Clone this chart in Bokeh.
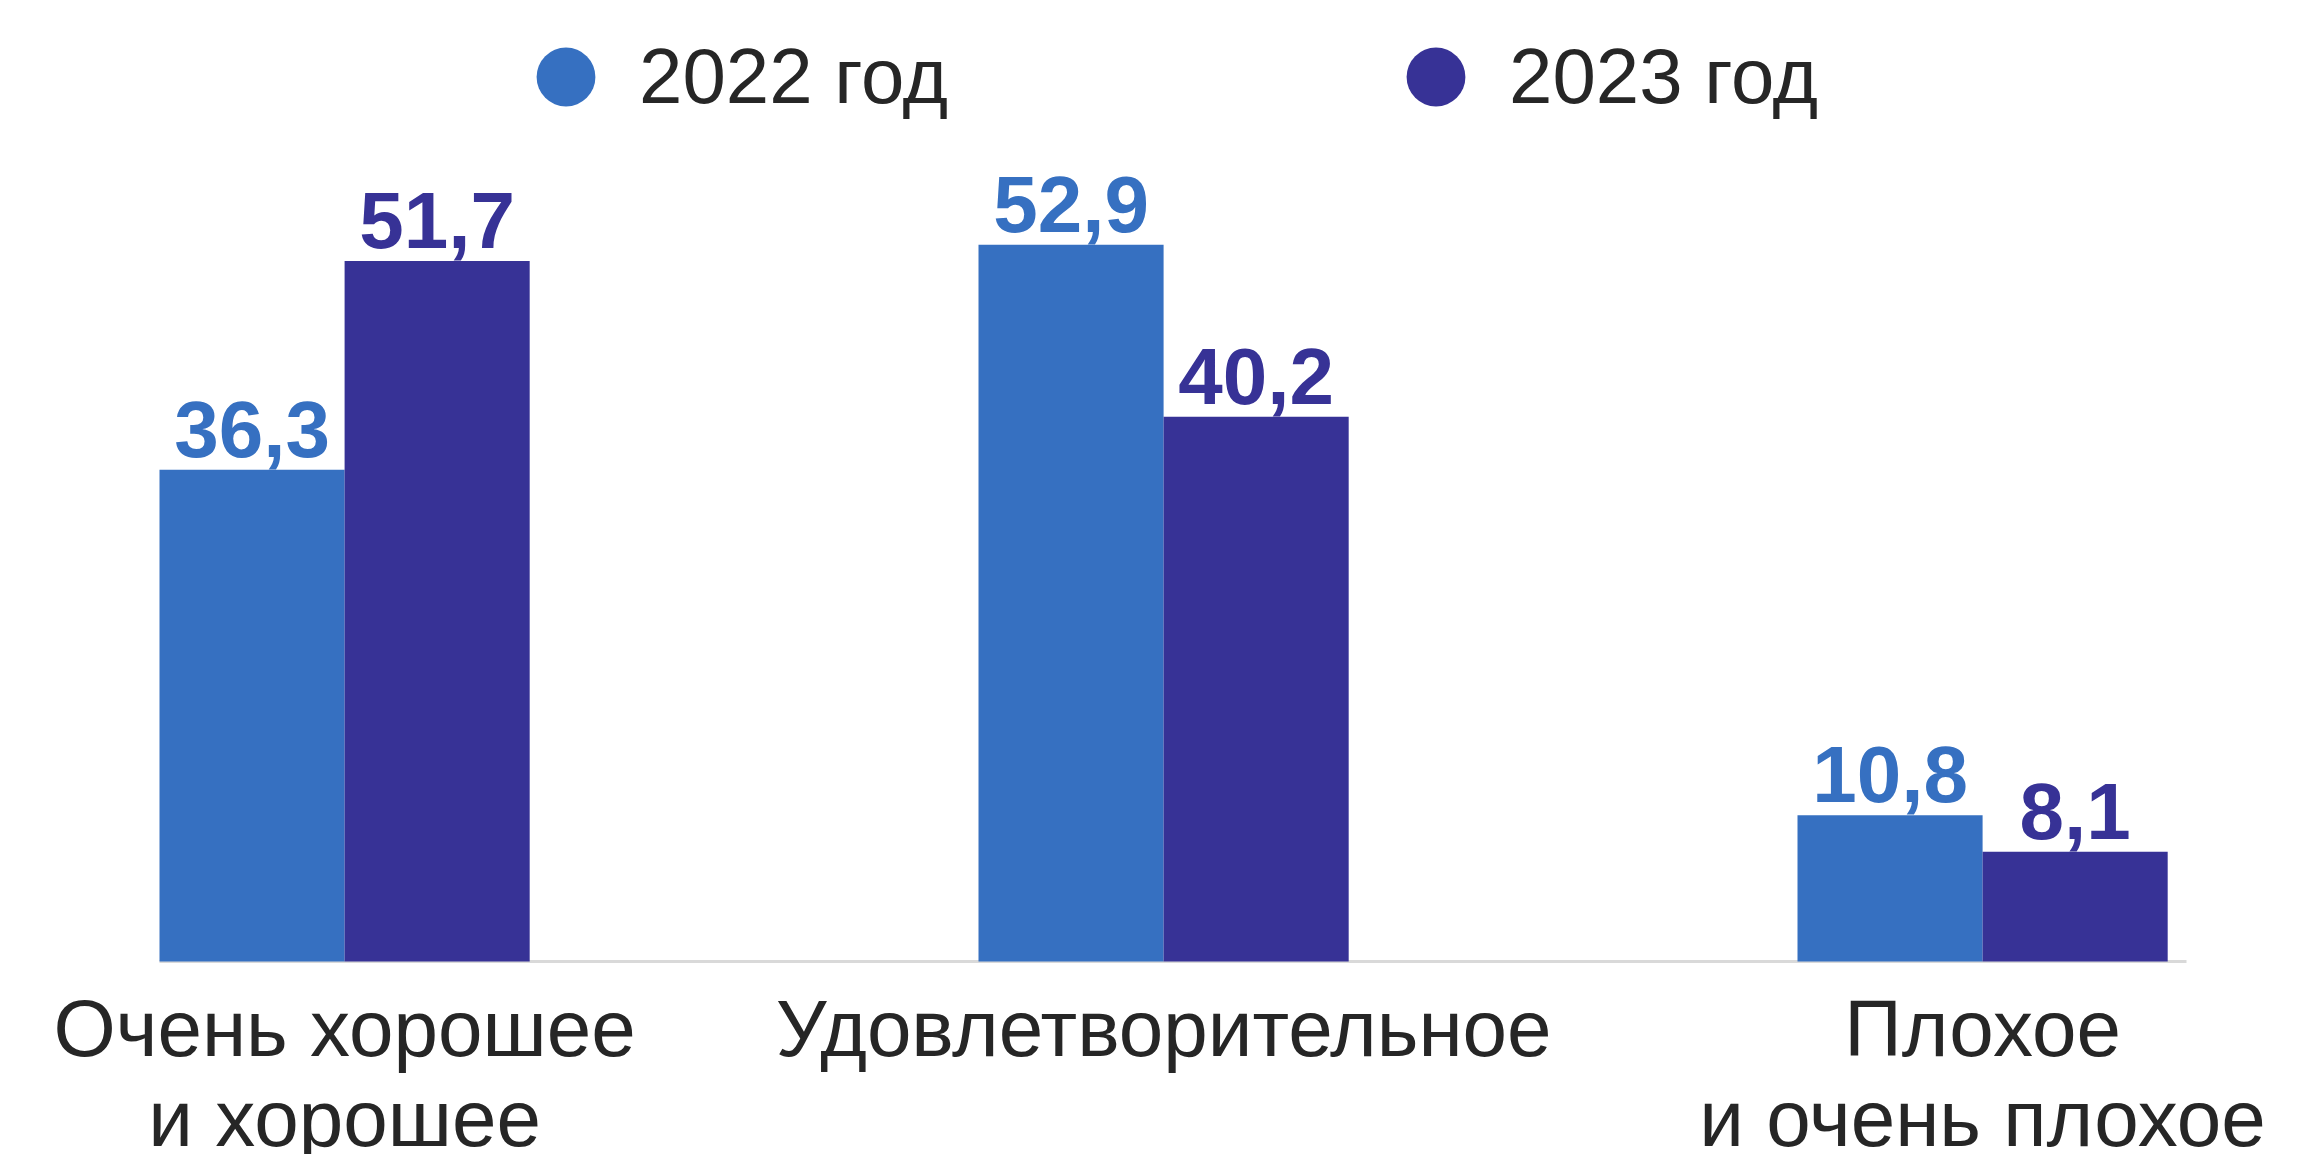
from bokeh.plotting import figure
from bokeh.models import Range1d, Legend, LegendItem, ColumnDataSource
from bokeh.core.properties import value
from bokeh.transform import dodge
from bokeh.embed import file_html
from bokeh.resources import INLINE
import numpy as np

# ---- data ----
categories = ["Очень хорошее\nи хорошее", "Удовлетворительное", "Плохое\nи очень плохое"]
years = ["2022 год", "2023 год"]
values_2022 = [36.3, 52.9, 10.8]
values_2023 = [51.7, 40.2, 8.1]

# ---- style ----
colors = ["#3670C1", "#373296"]
FONT = "Liberation Sans"
TEXT_COLOR = "#262626"
W, H = 2301, 1154
BAR_W = 0.226
UNIT_PX = 819.0
LEFT_PX = 159          # left edge of the first bar
AXIS_W_PX = 2027       # length of the baseline
BASE_PX = 961          # baseline distance from the top of the canvas
PX_PER_UNIT = 13.55

pos = np.arange(len(categories))
x_start = -BAR_W - LEFT_PX / UNIT_PX

p = figure(width=W, height=H, output_backend="svg", toolbar_location=None,
           x_range=Range1d(x_start, x_start + W / UNIT_PX),
           y_range=Range1d(-(H - BASE_PX) / PX_PER_UNIT, BASE_PX / PX_PER_UNIT),
           min_border_left=0, min_border_right=0,
           min_border_top=0, min_border_bottom=0)
p.outline_line_color = None
p.grid.visible = False
p.xaxis.visible = False
p.yaxis.visible = False
p.background_fill_color = "white"
p.border_fill_color = "white"

# baseline
p.segment(x0=[-BAR_W], x1=[-BAR_W + AXIS_W_PX / UNIT_PX], y0=[0], y1=[0],
          line_color="#d9d9d9", line_width=3)

series = [values_2022, values_2023]
offsets = [-BAR_W / 2, BAR_W / 2]
legend_x = [492, 1362]
for vals, col, off, yr, lx in zip(series, colors, offsets, years, legend_x):
    src = ColumnDataSource(dict(x=pos, top=vals,
                                label=[f"{v:.1f}".replace(".", ",") for v in vals]))
    p.vbar(x=dodge("x", off), top="top", bottom=0, width=BAR_W, source=src,
           fill_color=col, line_color=None)
    p.text(x=dodge("x", off), y="top", text="label", source=src,
           text_align="center", text_baseline="bottom", y_offset=-13,
           text_font=value(FONT), text_font_style="bold", text_font_size="80px",
           text_color=col)
    r = p.scatter(x=[np.nan], y=[np.nan], marker="circle", fill_color=col, line_color=None)
    leg = Legend(items=[LegendItem(label=yr, renderers=[r])],
                 location=(lx, H - 149.5),
                 glyph_width=147, glyph_height=147, label_height=147, label_standoff=0,
                 padding=0, margin=0, border_line_color=None,
                 background_fill_alpha=0,
                 label_text_font=FONT, label_text_font_size="78px",
                 label_text_color=TEXT_COLOR)
    p.add_layout(leg)

# category labels
cat_src = ColumnDataSource(dict(x=pos, y=np.zeros(len(pos)), text=categories))
p.text(x="x", y="y", text="text", source=cat_src, text_align="center",
       text_baseline="top", y_offset=22, text_line_height=1.02,
       text_font=value(FONT), text_font_size="80px", text_color=TEXT_COLOR)

open("out.html", "w").write(file_html(p, INLINE))
